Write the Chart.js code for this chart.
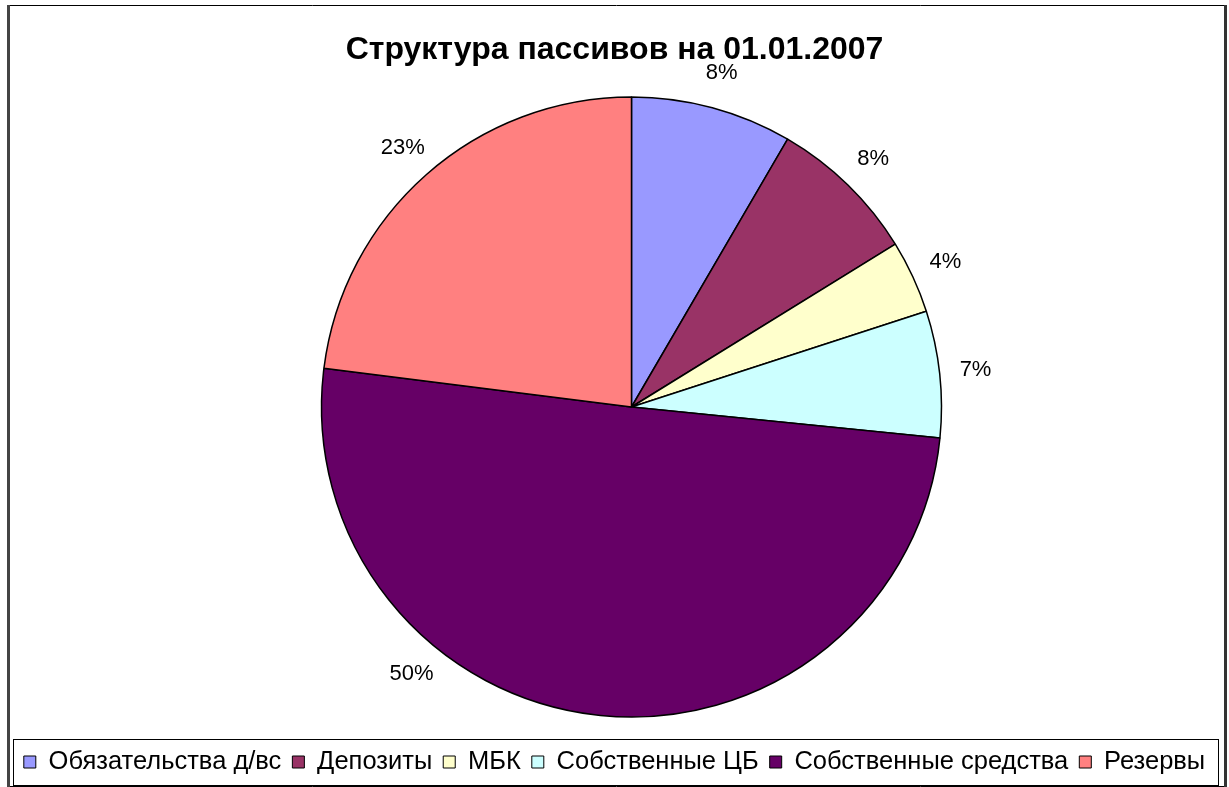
<!DOCTYPE html>
<html>
<head>
<meta charset="utf-8">
<script src="https://cdn.jsdelivr.net/npm/chart.js@4/dist/chart.umd.min.js"></script>
<style>
  html, body { margin: 0; padding: 0; background: #fff; }
  canvas { display: block; }
</style>
</head>
<body>
<canvas id="pie" width="1229" height="787"></canvas>
<script>
const title = 'Структура пассивов на 01.01.2007';
const categories = ['Обязательства д/вс', 'Депозиты', 'МБК', 'Собственные ЦБ', 'Собственные средства', 'Резервы'];
const shares = [8.4, 7.8, 3.8, 6.6, 50.4, 23.0];
const colors = ['#9999FF', '#993366', '#FFFFCC', '#CCFFFF', '#660066', '#FF8080'];

const FONT = '"Liberation Sans", Arial, sans-serif';
Chart.defaults.color = '#000';
Chart.defaults.font.family = FONT;

// pie is drawn a bit right of the page centre, like in the original sheet
const shiftPie = {
    id: 'shiftPie',
    afterLayout(chart, args, opts) {
        chart.chartArea.left += opts.dx;
        chart.chartArea.right += opts.dx;
    }
};

// outer frame of the chart sheet + frame round the legend
const frames = {
    id: 'frames',
    afterDraw(chart) {
        const ctx = chart.ctx;
        ctx.save();
        ctx.strokeStyle = '#000';
        ctx.lineWidth = 1;
        ctx.beginPath();
        ctx.moveTo(8, 5.5); ctx.lineTo(1225, 5.5);
        ctx.moveTo(8, 786.5); ctx.lineTo(1225, 786.5);
        ctx.stroke();
        ctx.fillStyle = '#444';
        ctx.fillRect(7, 5, 3, 782);
        ctx.fillStyle = '#333';
        ctx.fillRect(1224, 5, 3, 782);

        const boxes = chart.legend.legendHitBoxes;
        if (boxes && boxes.length) {
            const first = boxes[0];
            const cy = first.top + first.height / 2;
            ctx.strokeStyle = '#000';
            ctx.strokeRect(13.5, Math.round(cy - 23) + 0.5, 1205, 46);
        }
        ctx.restore();
    }
};

const pctLabels = {
    id: 'pctLabels',
    afterDatasetsDraw(chart, args, opts) {
        const ctx = chart.ctx;
        const meta = chart.getDatasetMeta(0);
        const total = shares.reduce((a, b) => a + b, 0);
        ctx.save();
        ctx.font = '22px ' + FONT;
        ctx.fillStyle = '#000';
        ctx.textAlign = 'center';
        ctx.textBaseline = 'middle';
        meta.data.forEach((arc, i) => {
            const p = arc.getProps(['x', 'y', 'startAngle', 'endAngle', 'outerRadius'], true);
            const mid = (p.startAngle + p.endAngle) / 2 + (opts.shift[i] || 0) * Math.PI / 180;
            const r = p.outerRadius + opts.offset;
            const text = Math.round(shares[i] / total * 100) + '%';
            ctx.fillText(text, p.x + r * Math.cos(mid), p.y + r * Math.sin(mid));
        });
        ctx.restore();
    }
};

new Chart(document.getElementById('pie'), {
    type: 'pie',
    data: {
        labels: categories,
        datasets: [{
            data: shares,
            backgroundColor: colors,
            borderColor: '#000',
            borderWidth: 1.5,
            radius: 310
        }]
    },
    options: {
        responsive: false,
        animation: false,
        layout: { padding: { left: 0, right: 0, top: 0, bottom: 2.25 } },
        plugins: {
            shiftPie: { dx: 17 },
            pctLabels: { offset: 36, shift: { 4: 33 } },
            tooltip: { enabled: false },
            title: {
                display: true,
                text: title,
                font: { size: 32, weight: 'bold', family: FONT },
                padding: { top: 31, bottom: 6.35 }
            },
            legend: {
                position: 'bottom',
                labels: {
                    boxWidth: 12,
                    boxHeight: 12,
                    padding: 11,
                    font: { size: 25.5, family: FONT },
                    generateLabels(chart) {
                        return categories.map((c, i) => ({
                            text: c,
                            fillStyle: colors[i],
                            strokeStyle: '#000',
                            lineWidth: 1,
                            index: i
                        }));
                    }
                }
            }
        }
    },
    plugins: [shiftPie, frames, pctLabels]
});
</script>
</body>
</html>
